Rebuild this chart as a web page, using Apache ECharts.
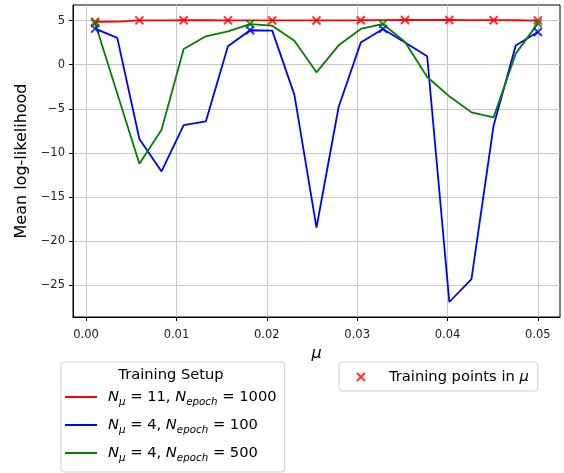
<!DOCTYPE html>
<html>
<head>
<meta charset="utf-8">
<script src="https://cdn.jsdelivr.net/npm/echarts@6/dist/echarts.min.js"></script>
<style>
html,body{margin:0;padding:0;background:#fff;}
#chart{width:564px;height:473px;}
</style>
</head>
<body>
<div id="chart"></div>
<script>
// ---- data ----
const mu = [0.001, 0.00345, 0.0059, 0.00835, 0.0108, 0.01325, 0.0157, 0.01815, 0.0206, 0.02305,
            0.0255, 0.02795, 0.0304, 0.03285, 0.0353, 0.03775, 0.0402, 0.04265, 0.0451, 0.04755, 0.05];
const llRed   = [4.86, 4.88, 5.02, 5.02, 5.03, 5.03, 5.02, 5.02, 5.01, 5.01, 5.01, 5.02, 5.03, 5.05, 5.06, 5.06, 5.06, 5.05, 5.04, 5.03, 5.0];
const llBlue  = [4.08, 3.03, -8.43, -12.1, -6.85, -6.43, 2.08, 3.9, 3.86, -3.4, -18.46, -4.8, 2.5, 4.05, 2.5, 0.95, -26.9, -24.3, -6.92, 2.16, 3.7];
const llGreen = [4.7, -3.27, -11.23, -7.37, 1.78, 3.21, 3.78, 4.6, 4.42, 2.72, -0.87, 2.19, 4.05, 4.61, 2.57, -1.4, -3.59, -5.41, -5.98, 1.25, 4.68];
const trainIdxRed = [0, 2, 4, 6, 8, 10, 12, 14, 16, 18, 20];
const trainIdx4 = [0, 7, 13, 20];
const xTicks = [0, 0.01, 0.02, 0.03, 0.04, 0.05];
const yTicks = [-25, -20, -15, -10, -5, 0, 5];
const seriesNames = ['N_μ = 11, N_epoch = 1000', 'N_μ = 4, N_epoch = 100', 'N_μ = 4, N_epoch = 500'];
const seriesRich = ['{i|N}{s|μ}{t| = 11, }{i|N}{s|epoch}{t| = 1000}',
                    '{i|N}{s|μ}{t| = 4, }{i|N}{s|epoch}{t| = 100}',
                    '{i|N}{s|μ}{t| = 4, }{i|N}{s|epoch}{t| = 500}'];
const trainName = 'Training points in μ';
const legendTitle = 'Training Setup';

const FONT = 'DejaVu Sans';
const pairs = (vals) => mu.map((m, i) => [m, vals[i]]);
const pick = (vals, idx) => idx.map(i => [mu[i], vals[i]]);
const XSYM = 'path://M0,0L10,10M10,0L0,10';

const chart = echarts.init(document.getElementById('chart'), null, {renderer: 'canvas'});
const lineSeries = (name, vals, color) => ({
  name: name, type: 'line', data: pairs(vals), symbol: 'none', smooth: false,
  lineStyle: {color: color, width: 1.8}, itemStyle: {color: color}, animation: false
});
const markSeries = (name, data, color) => ({
  name: name, type: 'scatter', data: data, symbol: XSYM, symbolSize: 8,
  itemStyle: {color: color, borderColor: color, borderWidth: 2}, animation: false, z: 4
});

const option = {
  animation: false,
  backgroundColor: '#fff',
  textStyle: {fontFamily: FONT},
  grid: {left: 73, top: 5, width: 487, height: 312, show: true, borderColor: '#000', borderWidth: 1, containLabel: false},
  xAxis: {
    type: 'value', min: -0.00145, max: 0.05245,
    axisLine: {show: true, onZero: false, lineStyle: {color: '#000', width: 1}},
    axisTick: {show: true, length: 4, customValues: xTicks, lineStyle: {color: '#000'}},
    axisLabel: {customValues: xTicks, formatter: v => v.toFixed(2), fontSize: 11.5, color: '#222', margin: 12, fontFamily: FONT},
    splitLine: {show: true, lineStyle: {color: '#c8c8c8', width: 1}},
    name: 'μ', nameLocation: 'middle', nameGap: 26,
    nameTextStyle: {fontSize: 16, fontStyle: 'italic', color: '#000', fontFamily: FONT}
  },
  yAxis: {
    type: 'value', min: -28.6, max: 6.76,
    axisLine: {show: true, onZero: false, lineStyle: {color: '#000', width: 1}},
    axisTick: {show: true, length: 4, customValues: yTicks, lineStyle: {color: '#000'}},
    axisLabel: {customValues: yTicks, formatter: v => String(v).replace('-', '\u2212'), fontSize: 11.5, color: '#222', margin: 8, fontFamily: FONT},
    splitLine: {show: true, lineStyle: {color: '#c8c8c8', width: 1}},
    name: 'Mean log-likelihood', nameLocation: 'middle', nameGap: 40,
    nameTextStyle: {fontSize: 16, color: '#000', fontFamily: FONT}
  },
  legend: [
    {
      data: seriesNames, orient: 'vertical', left: 61, top: 362,
      padding: [25, 8, 9, 4], itemWidth: 32, itemHeight: 2, itemGap: 8, icon: 'rect',
      selectedMode: false, borderColor: '#d0d0d0', borderWidth: 1, borderRadius: 3,
      backgroundColor: 'rgba(255,255,255,0.8)',
      formatter: name => seriesRich[seriesNames.indexOf(name)],
      textStyle: {
        color: '#000', fontFamily: FONT, fontSize: 14.7, lineHeight: 20, padding: [0, 0, 0, 6],
        rich: {
          i: {fontStyle: 'italic', fontSize: 14.7, lineHeight: 20, color: '#000', fontFamily: FONT},
          t: {fontSize: 14.7, lineHeight: 20, color: '#000', fontFamily: FONT},
          s: {fontStyle: 'italic', fontSize: 10.3, lineHeight: 11, verticalAlign: 'bottom', color: '#000', fontFamily: FONT}
        }
      }
    },
    {
      data: [trainName], orient: 'vertical', left: 339, top: 362,
      padding: [5, 9, 4, 17], itemWidth: 8, itemHeight: 8, icon: XSYM,
      selectedMode: false, borderColor: '#d0d0d0', borderWidth: 1, borderRadius: 3,
      backgroundColor: 'rgba(255,255,255,0.8)',
      itemStyle: {borderWidth: 2, borderColor: '#ff0000', color: '#ff0000'},
      formatter: () => '{t|Training points in }{i|μ}',
      textStyle: {
        color: '#000', fontFamily: FONT, fontSize: 14.7, lineHeight: 20, padding: [0, 0, 0, 19],
        rich: {
          t: {fontSize: 14.7, lineHeight: 20, color: '#000', fontFamily: FONT},
          i: {fontStyle: 'italic', fontSize: 14.7, lineHeight: 20, color: '#000', fontFamily: FONT}
        }
      }
    }
  ],
  graphic: [
    {type: 'text', x: 171, y: 375, silent: true, z: 100, zlevel: 0,
     style: {text: legendTitle, fontSize: 14.7, fontFamily: FONT, fill: '#000', align: 'center', verticalAlign: 'middle'}}
  ],
  series: [
    lineSeries(seriesNames[0], llRed, '#ff0000'),
    lineSeries(seriesNames[1], llBlue, '#0000ff'),
    lineSeries(seriesNames[2], llGreen, '#008000'),
    markSeries(trainName, pick(llRed, trainIdxRed), '#ff0000'),
    markSeries('blue training points', pick(llBlue, trainIdx4), '#0000ff'),
    markSeries('green training points', pick(llGreen, trainIdx4), '#008000')
  ]
};
chart.setOption(option);
</script>
</body>
</html>
